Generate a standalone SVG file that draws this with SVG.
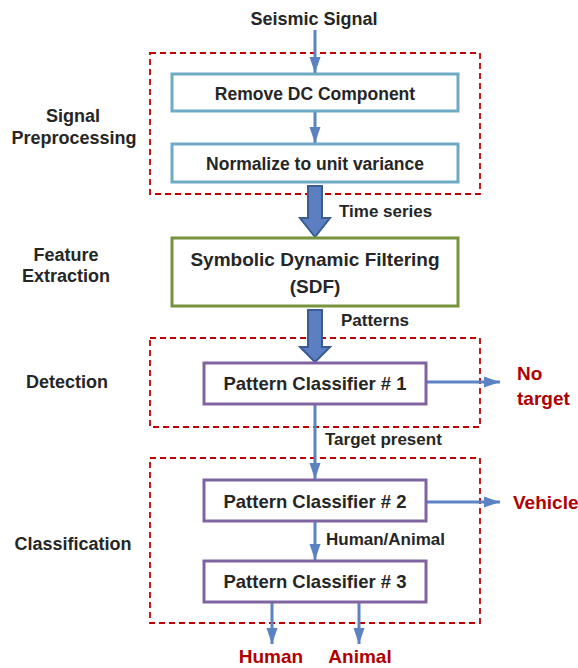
<svg xmlns="http://www.w3.org/2000/svg" width="578" height="668" viewBox="0 0 578 668">
<defs>
<style>
text{font-family:"Liberation Sans",Arial,sans-serif;font-weight:bold;fill:#262626}
.c{text-anchor:middle}
.box{fill:#fff;stroke-width:3}
.blue{stroke:#6ea9c5}
.olive{stroke:#77933c}
.purple{stroke:#8064a2}
.dash{fill:none;stroke:#c00000;stroke-width:1.8;stroke-dasharray:6 4}
.ln{stroke:#5b82c2;stroke-width:3;fill:none;marker-end:url(#ah)}
.fat{fill:#5b7fc0;stroke:#3b5b92;stroke-width:2}
.red{fill:#b00000;font-size:19px}
.lbl{font-size:18px}
.sm{font-size:17px}
.bt{font-size:17.5px}
.pc{font-size:18.5px}
</style>
<marker id="ah" viewBox="0 0 10 10" refX="10" refY="5" markerWidth="5.5" markerHeight="3.8" orient="auto" markerUnits="strokeWidth" preserveAspectRatio="none">
<path d="M0,0L10,5L0,10z" fill="#5b82c2"/>
</marker>
</defs>
<g id="stage-boxes">
<rect class="dash" x="150" y="53" width="330" height="141"/>
<rect class="dash" x="150" y="338" width="330" height="89"/>
<rect class="dash" x="150" y="458" width="330" height="165"/>
</g>
<g id="stage-labels">
<text class="lbl c" x="73" y="122">Signal</text>
<text class="lbl c" x="74" y="144">Preprocessing</text>
<text class="lbl c" x="66" y="261">Feature</text>
<text class="lbl c" x="66" y="282">Extraction</text>
<text class="lbl c" x="67" y="388">Detection</text>
<text class="lbl c" x="73" y="550">Classification</text>
</g>
<g id="connectors">
<line class="ln" x1="315" y1="30" x2="315" y2="73"/>
<line class="ln" x1="315" y1="111" x2="315" y2="143"/>
<polygon class="fat" points="308,186 322,186 322,218 330,218 315,237 300,218 308,218"/>
<polygon class="fat" points="308,310 322,310 322,347 330,347 315,362 300,347 308,347"/>
<line class="ln" x1="426" y1="382" x2="500" y2="382"/>
<line class="ln" x1="315" y1="404" x2="315" y2="479"/>
<line class="ln" x1="426" y1="502" x2="500" y2="502"/>
<line class="ln" x1="315" y1="521" x2="315" y2="560"/>
<line class="ln" x1="272" y1="602" x2="272" y2="644"/>
<line class="ln" x1="359" y1="602" x2="359" y2="644"/>
</g>
<g id="edge-labels">
<text class="sm" x="339" y="217">Time series</text>
<text class="sm" x="341" y="326">Patterns</text>
<text class="sm" x="325" y="445">Target present</text>
<text class="sm" x="326" y="545">Human/Animal</text>
</g>
<g id="seismic-signal"><text class="lbl c" x="314" y="25">Seismic Signal</text></g>
<g id="remove-dc">
<rect class="box blue" x="172" y="74" width="286" height="37"/>
<text class="bt c" x="315" y="100">Remove DC Component</text>
</g>
<g id="normalize">
<rect class="box blue" x="172" y="144" width="286" height="38"/>
<text class="bt c" x="315" y="170">Normalize to unit variance</text>
</g>
<g id="sdf">
<rect class="box olive" x="172" y="238" width="286" height="68"/>
<text class="c" style="font-size:19px" x="315" y="266">Symbolic Dynamic Filtering</text>
<text class="c" style="font-size:19px" x="315" y="293">(SDF)</text>
</g>
<g id="pc1">
<rect class="box purple" x="204" y="363" width="222" height="41"/>
<text class="pc c" x="315" y="390">Pattern Classifier # 1</text>
</g>
<g id="pc2">
<rect class="box purple" x="204" y="480" width="222" height="41"/>
<text class="pc c" x="315" y="508">Pattern Classifier # 2</text>
</g>
<g id="pc3">
<rect class="box purple" x="204" y="561" width="222" height="41"/>
<text class="pc c" x="315" y="588">Pattern Classifier # 3</text>
</g>
<g id="no-target">
<text class="red" x="517" y="380">No</text>
<text class="red" x="517" y="405">target</text>
</g>
<g id="vehicle"><text class="red" x="513" y="509">Vehicle</text></g>
<g id="human"><text class="red c" x="271" y="663">Human</text></g>
<g id="animal"><text class="red c" x="360" y="663">Animal</text></g>
</svg>
